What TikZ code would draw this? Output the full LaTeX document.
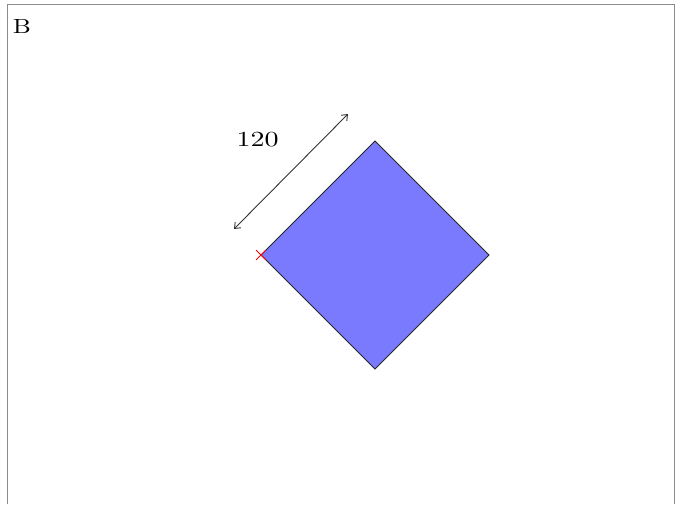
\documentclass[tikz,border=0pt]{standalone}
\usetikzlibrary{arrows.meta, shapes.misc}
\definecolor{squareblue}{RGB}{122,122,255}
\definecolor{framegray}{RGB}{140,140,140}

\begin{document}
\begin{tikzpicture}[x=1pt, y=-1pt,
        frame/.style={draw=framegray, line width=1.2pt},
        sq/.style={draw=black!85, fill=squareblue, line width=0.8pt},
        dim/.style={{Straight Barb[length=5pt,width=8pt]}-{Straight Barb[length=5pt,width=8pt]},
                    draw=black!80, line width=0.9pt},
        lbl/.style={inner sep=0pt},
        pin/.style={draw=red, cross out, line width=0.8pt, minimum size=9pt, inner sep=0pt}
      ]
      \useasboundingbox (0,0) rectangle (683,504);
      \draw[frame] (7.5,504) -- (7.5,4.5) -- (674.5,4.5) -- (674.5,504);
      \node[lbl] (title) at (22,26) {\scalebox{2.55}[2.05]{B}};
      % square corners
      \coordinate (w) at (261,255);
      \coordinate (n) at (375,141);
      \coordinate (e) at (489,255);
      \coordinate (s) at (375,369);
      \draw[sq] (w) -- (n) -- (e) -- (s) -- cycle;
      % side length
      \coordinate (d1) at (234,229);
      \coordinate (d2) at (348,114);
      \draw[dim] (d1) -- (d2);
      \node[lbl] (len) at (257.5,139.5) {\scalebox{2.8}[2.15]{120}};
      \node[pin] (origin) at (w) {};
    \end{tikzpicture}
\end{document}
